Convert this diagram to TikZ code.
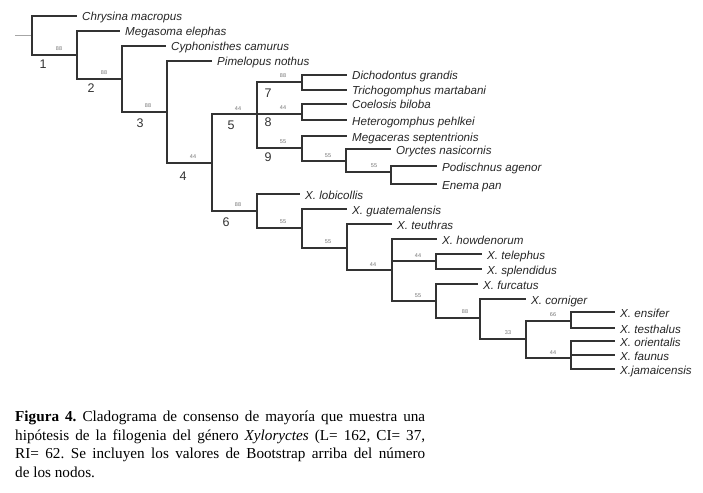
\documentclass[tikz,border=0pt]{standalone}
\usepackage{fontspec}
\setmainfont{Liberation Serif}
\newfontfamily\arial{Liberation Sans}
\begin{document}
\frenchspacing
\begin{tikzpicture}[x=1pt,y=-1pt,
  br/.style={draw=black!80, line width=1.2pt},
  tip/.style={anchor=base west, inner sep=0pt, font=\arial\itshape\fontsize{11.6}{13}\selectfont, text=black!85, xshift=5pt, yshift=-5pt},
  bs/.style={font=\arial\fontsize{5.5}{6}\selectfont, text=black!55, inner sep=0pt},
  nn/.style={font=\arial\fontsize{12.5}{14}\selectfont, text=black!80, inner sep=0pt},
  captext/.style={anchor=base west, inner sep=0pt, font=\fontsize{15.2}{18}\selectfont}]
\useasboundingbox (0,0) rectangle (703,492);
% internal nodes
\coordinate (r0) at (15,35);
\coordinate (n1) at (32,35);
\coordinate (n2) at (77,55);
\coordinate (n3) at (122,79);
\coordinate (n4) at (167,112);
\coordinate (n4b) at (212,163);
\coordinate (n5) at (257,114);
\coordinate (n7) at (302,82);
\coordinate (n8) at (302,114);
\coordinate (n9) at (302,148);
\coordinate (n9b) at (346,161);
\coordinate (n9c) at (391,172);
\coordinate (n6) at (257,211);
\coordinate (n6b) at (302,228);
\coordinate (n6c) at (347,248);
\coordinate (n6d) at (392,270);
\coordinate (ntel) at (436,261);
\coordinate (nfur) at (436,301);
\coordinate (ncor) at (480,318);
\coordinate (n33) at (526,339);
\coordinate (nens) at (571,321);
\coordinate (nori) at (571,358);
% tips
\coordinate (tchr) at (77,16);
\coordinate (tmeg) at (120,31);
\coordinate (tcyp) at (166,46);
\coordinate (tpim) at (212,61);
\coordinate (tdic) at (347,75);
\coordinate (ttri) at (347,90);
\coordinate (tcoe) at (347,104);
\coordinate (thet) at (347,120);
\coordinate (tmes) at (347,136);
\coordinate (tory) at (391,149);
\coordinate (tpod) at (437,166);
\coordinate (tene) at (437,184);
\coordinate (tlob) at (300,194);
\coordinate (tgua) at (347,209);
\coordinate (tteu) at (392,224);
\coordinate (thow) at (437,239);
\coordinate (ttel) at (482,254);
\coordinate (tspl) at (482,269);
\coordinate (tfur) at (478,284);
\coordinate (tcor) at (526,299);
\coordinate (tens) at (615,312);
\coordinate (ttes) at (615,328);
\coordinate (tori) at (615,341);
\coordinate (tfau) at (615,355);
\coordinate (tjam) at (615,369);
% branches
\draw[draw=black!35, line width=0.8pt] (r0) -- (n1);
\draw[br] (n1) |- (tchr); \draw[br] (n1) |- (n2);
\draw[br] (n2) |- (tmeg); \draw[br] (n2) |- (n3);
\draw[br] (n3) |- (tcyp); \draw[br] (n3) |- (n4);
\draw[br] (n4) |- (tpim); \draw[br] (n4) |- (n4b);
\draw[br] (n4b) |- (n5); \draw[br] (n4b) |- (n6);
\draw[br] (n5) |- (n7); \draw[br] (n5) |- (n8); \draw[br] (n5) |- (n9);
\draw[br] (n7) |- (tdic); \draw[br] (n7) |- (ttri);
\draw[br] (n8) |- (tcoe); \draw[br] (n8) |- (thet);
\draw[br] (n9) |- (tmes); \draw[br] (n9) |- (n9b);
\draw[br] (n9b) |- (tory); \draw[br] (n9b) |- (n9c);
\draw[br] (n9c) |- (tpod); \draw[br] (n9c) |- (tene);
\draw[br] (n6) |- (tlob); \draw[br] (n6) |- (n6b);
\draw[br] (n6b) |- (tgua); \draw[br] (n6b) |- (n6c);
\draw[br] (n6c) |- (tteu); \draw[br] (n6c) |- (n6d);
\draw[br] (n6d) |- (thow); \draw[br] (n6d) |- (ntel); \draw[br] (n6d) |- (nfur);
\draw[br] (ntel) |- (ttel); \draw[br] (ntel) |- (tspl);
\draw[br] (nfur) |- (tfur); \draw[br] (nfur) |- (ncor);
\draw[br] (ncor) |- (tcor); \draw[br] (ncor) |- (n33);
\draw[br] (n33) |- (nens); \draw[br] (n33) |- (nori);
\draw[br] (nens) |- (tens); \draw[br] (nens) |- (ttes);
\draw[br] (nori) |- (tori); \draw[br] (nori) |- (tfau); \draw[br] (nori) |- (tjam);
% tip labels
\node[tip] (lchr) at (tchr) {Chrysina macropus};
\node[tip] (lmeg) at (tmeg) {Megasoma elephas};
\node[tip] (lcyp) at (tcyp) {Cyphonisthes camurus};
\node[tip] (lpim) at (tpim) {Pimelopus nothus};
\node[tip] (ldic) at (tdic) {Dichodontus grandis};
\node[tip] (ltri) at (ttri) {Trichogomphus martabani};
\node[tip] (lcoe) at (tcoe) {Coelosis biloba};
\node[tip] (lhet) at (thet) {Heterogomphus pehlkei};
\node[tip] (lmes) at (tmes) {Megaceras septentrionis};
\node[tip] (lory) at (tory) {Oryctes nasicornis};
\node[tip] (lpod) at (tpod) {Podischnus agenor};
\node[tip] (lene) at (tene) {Enema pan};
\node[tip] (llob) at (tlob) {X. lobicollis};
\node[tip] (lgua) at (tgua) {X. guatemalensis};
\node[tip] (lteu) at (tteu) {X. teuthras};
\node[tip] (lhow) at (thow) {X. howdenorum};
\node[tip] (ltel) at (ttel) {X. telephus};
\node[tip] (lspl) at (tspl) {X. splendidus};
\node[tip] (lfur) at (tfur) {X. furcatus};
\node[tip] (lcor) at (tcor) {X. corniger};
\node[tip] (lens) at (tens) {X. ensifer};
\node[tip] (ltes) at (ttes) {X. testhalus};
\node[tip] (lori) at (tori) {X. orientalis};
\node[tip] (lfau) at (tfau) {X. faunus};
\node[tip] (ljam) at (tjam) {X.jamaicensis};
% bootstrap values
\node[bs] (b1) at (59,49) {88};
\node[bs] (b2) at (104,73) {88};
\node[bs] (b3) at (148,106) {88};
\node[bs] (b4) at (193,157) {44};
\node[bs] (b5) at (238,109) {44};
\node[bs] (b7) at (283,76) {88};
\node[bs] (b8) at (283,108) {44};
\node[bs] (b9) at (283,142) {55};
\node[bs] (b9b) at (328,156) {55};
\node[bs] (b9c) at (374,166) {55};
\node[bs] (b6) at (238,205) {88};
\node[bs] (b6b) at (283,222) {55};
\node[bs] (b6c) at (328,242) {55};
\node[bs] (b6d) at (373,265) {44};
\node[bs] (btel) at (418,256) {44};
\node[bs] (bfur) at (418,296) {55};
\node[bs] (bcor) at (465,312) {88};
\node[bs] (b33) at (508,333) {33};
\node[bs] (bens) at (553,315) {66};
\node[bs] (bori) at (553,353) {44};
% node numbers
\node[nn] (k1) at (43,64) {1};
\node[nn] (k2) at (91,88) {2};
\node[nn] (k3) at (140,123) {3};
\node[nn] (k4) at (183,176) {4};
\node[nn] (k5) at (231,125) {5};
\node[nn] (k6) at (226,222) {6};
\node[nn] (k7) at (268,93) {7};
\node[nn] (k8) at (268,122) {8};
\node[nn] (k9) at (268,157) {9};
% caption
\node[captext] (cap1) at (15,421) {\makebox[410pt][s]{\textbf{Figura 4.} Cladograma de consenso de mayoría que muestra una}};
\node[captext] (cap2) at (15,440) {\makebox[410pt][s]{hipótesis de la filogenia del género \textit{Xyloryctes} (L= 162, CI= 37,}};
\node[captext] (cap3) at (15,458) {\makebox[410pt][s]{RI= 62. Se incluyen los valores de Bootstrap arriba del número}};
\node[captext] (cap4) at (15,477) {de los nodos.};
\end{tikzpicture}
\end{document}
